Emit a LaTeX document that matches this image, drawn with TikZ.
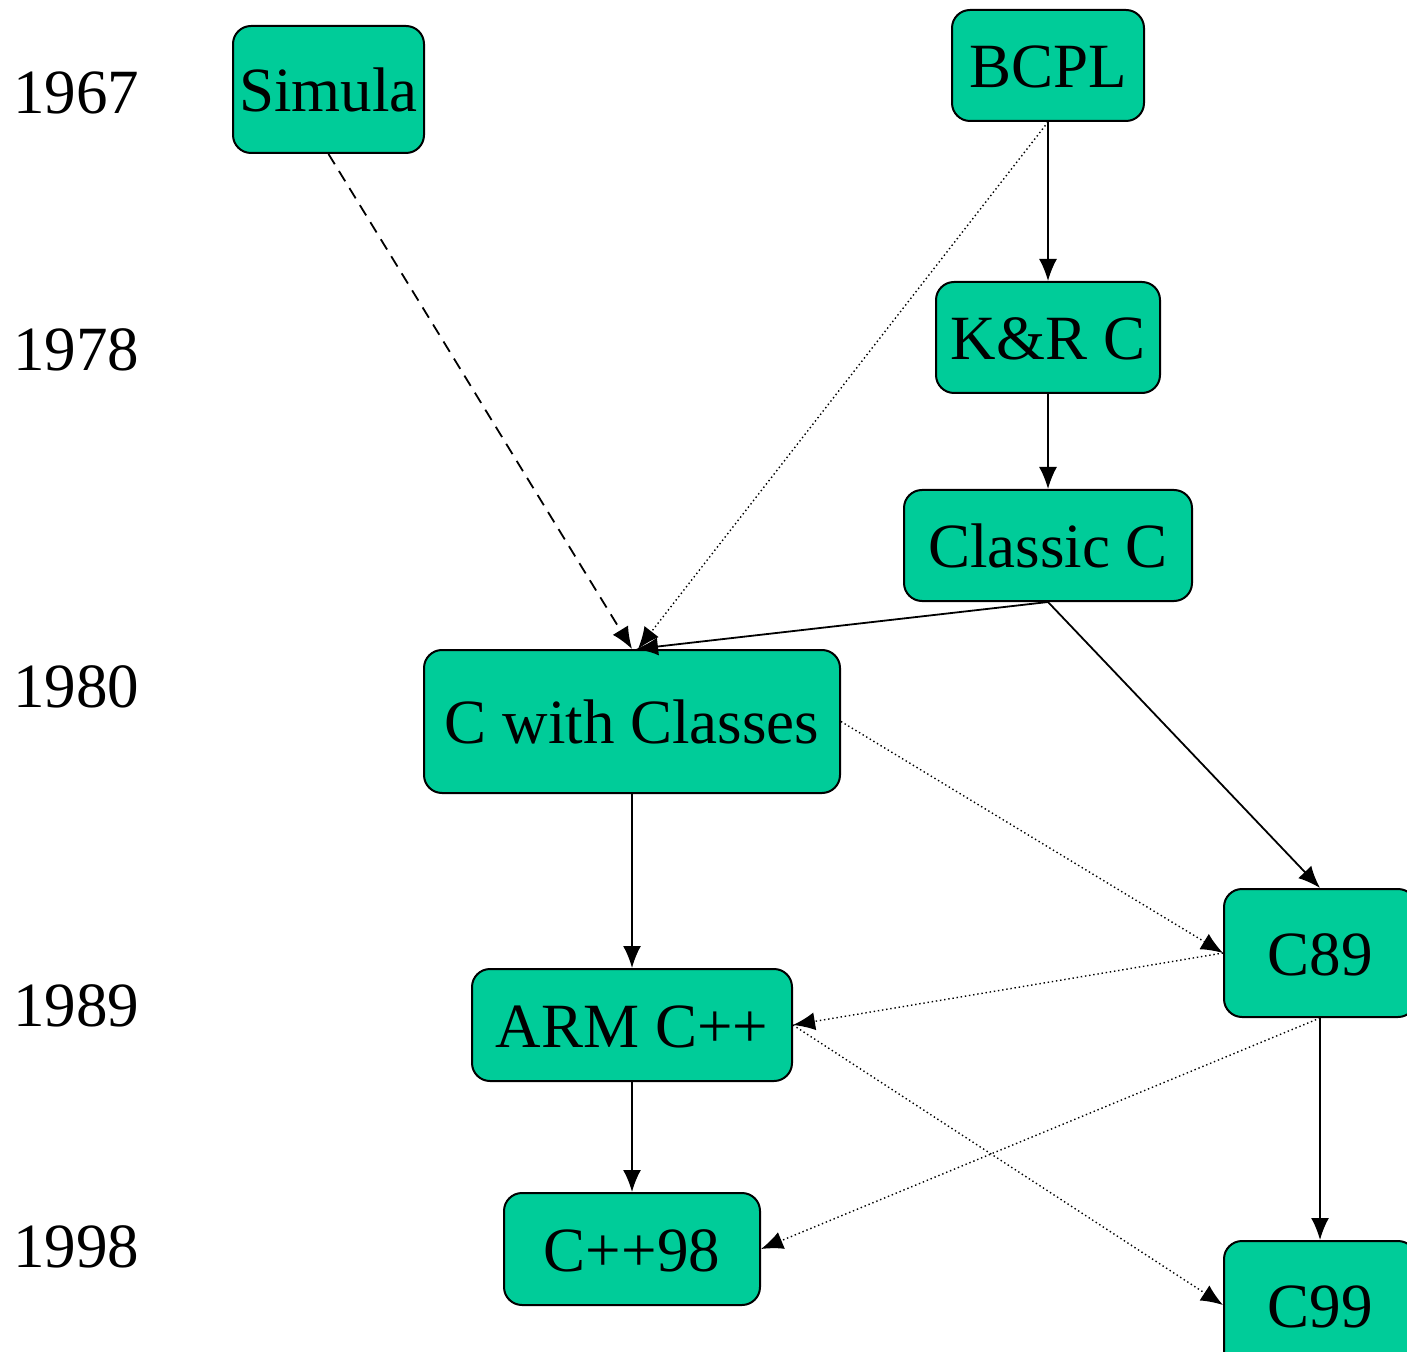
\documentclass[tikz,border=0pt]{standalone}
\usepackage{fontspec}
\setmainfont{Liberation Serif}
\usetikzlibrary{arrows.meta}
\definecolor{boxfill}{HTML}{00CC99}
\tikzset{
  lang/.style={draw=black, line width=1pt, fill=boxfill, rounded corners=9pt, inner sep=0pt,
    font=\fontsize{31.5}{36}\selectfont, text depth=0pt, text height=22pt},
  year/.style={inner sep=0pt, font=\fontsize{31.5}{36}\selectfont},
  edge/.style={line width=0.9pt, -{Latex[length=11pt,width=9pt]}},
  dotedge/.style={edge, line width=0.7pt, dash pattern=on 0.7pt off 1.4pt},
  dashedge/.style={edge, dash pattern=on 6pt off 4pt},
}
\begin{document}
\begin{tikzpicture}[x=0.5pt,y=-0.5pt]
\useasboundingbox[fill=white] (0,0) rectangle (1407,1352);
% years
\node[year] (y1967) at (76,93) {1967};
\node[year] (y1978) at (76,350) {1978};
\node[year] (y1980) at (76,687) {1980};
\node[year] (y1989) at (76,1006) {1989};
\node[year] (y1998) at (76,1247) {1998};
% languages
\node[lang, minimum width=95.5pt, minimum height=63.5pt] (simula) at (328.5,89.5) {Simula};
\node[lang, minimum width=96pt, minimum height=55.5pt] (bcpl) at (1048,65.5) {BCPL};
\node[lang, minimum width=112pt, minimum height=55.5pt] (kr) at (1048,337.5) {K\&R C};
\node[lang, minimum width=144pt, minimum height=55.5pt] (classic) at (1048,545.5) {Classic C};
\node[lang, minimum width=208pt, minimum height=71.5pt] (cwc) at (632,721.5) {C with Classes};
\node[lang, minimum width=96pt, minimum height=64pt] (c89) at (1320,953) {C89};
\node[lang, minimum width=160pt, minimum height=56pt] (arm) at (632,1025) {ARM C++};
\node[lang, minimum width=128pt, minimum height=56pt] (cpp98) at (632,1249) {C++98};
\node[lang, minimum width=96pt, minimum height=64pt] (c99) at (1320,1305) {C99};
% edges
\draw[dashedge] (simula.south) -- (cwc.north);
\draw[dotedge] (bcpl.south) -- ([xshift=3pt]cwc.north);
\draw[edge] (bcpl.south) -- (kr.north);
\draw[edge] (kr.south) -- (classic.north);
\draw[edge] (classic.south) -- ([xshift=2pt]cwc.north);
\draw[edge] (classic.south) -- (c89.north);
\draw[edge] (cwc.south) -- (arm.north);
\draw[dotedge] (cwc.east) -- (c89.west);
\draw[dotedge] (c89.west) -- (arm.east);
\draw[dotedge] (c89.south) -- (cpp98.east);
\draw[dotedge] (arm.east) -- (c99.west);
\draw[edge] (arm.south) -- (cpp98.north);
\draw[edge] (c89.south) -- (c99.north);
\end{tikzpicture}
\end{document}
